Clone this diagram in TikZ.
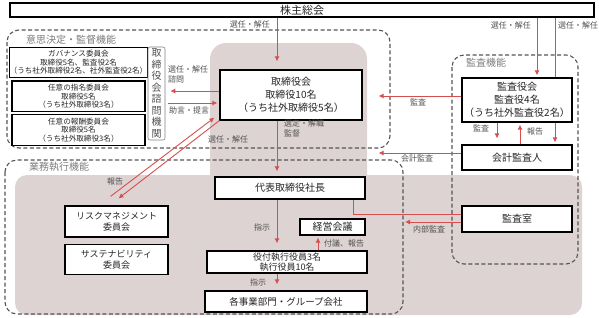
\documentclass[tikz,border=0pt]{standalone}
\usepackage{fontspec}
\setmainfont{Noto Sans CJK JP}
\usetikzlibrary{arrows.meta,positioning,backgrounds,calc}
\definecolor{arrowred}{RGB}{214,78,78}
\definecolor{towerfill}{RGB}{222,211,211}
\definecolor{zonegray}{RGB}{85,85,85}
\definecolor{labelgray}{RGB}{80,80,80}
\definecolor{zonetext}{RGB}{125,125,125}

\begin{document}
\begin{tikzpicture}[
    x=1pt, y=-1pt,
    unit/.style={
      rectangle, draw, line width=1.2pt, fill=white, align=center,
      inner sep=0pt, text=black!85, font=\fontsize{10}{13}\selectfont
    },
    committee/.style={unit, minimum width=133pt, minimum height=30.5pt,
      font=\fontsize{7.6}{8.6}\selectfont},
    zone/.style={draw=zonegray, line width=1.1pt, dash pattern=on 4pt off 2.5pt,
      rounded corners=12pt},
    zonelabel/.style={text=zonetext, font=\fontsize{10}{12}\selectfont},
    flow/.style={draw=arrowred, line width=0.9pt, -{Latex[length=5pt,width=5pt]},
      shorten >=2pt},
    note/.style={text=labelgray, font=\fontsize{8}{10}\selectfont, inner sep=1pt,
      align=left}
  ]
  \useasboundingbox (0,0) rectangle (599,317);
  \coordinate (execedge) at (403,160);

  \node[unit, minimum width=584pt, minimum height=14pt, font=\fontsize{11}{13}\selectfont] (agm) at (302,10) {株主総会};
  \node[unit, minimum width=142pt, minimum height=50pt] (board) at (291,95) {取締役会\\取締役10名\\（うち社外取締役5名）};
  \node[unit, minimum width=110pt, minimum height=44pt] (asb) at (517,100) {監査役会\\監査役4名\\（うち社外監査役2名）};
  \node[unit, minimum width=110pt, minimum height=25pt] (auditor) at (517,157.5) {会計監査人};
  \node[unit, minimum width=110pt, minimum height=26pt] (iad) at (517,219) {監査室};
  \node[unit, minimum width=150pt, minimum height=22pt] (ceo) at (290,188) {代表取締役社長};
  \node[unit, minimum width=65pt, minimum height=16pt] (mgmt) at (332.5,227) {経営会議};
  \node[unit, minimum width=160pt, minimum height=22pt, font=\fontsize{9}{10.5}\selectfont] (officers) at (287,262) {役付執行役員3名\\執行役員10名};
  \node[unit, minimum width=162pt, minimum height=21pt, font=\fontsize{9.5}{11}\selectfont] (units) at (286,301.5) {各事業部門・グループ会社};
  \node[unit, minimum width=103pt, minimum height=31pt, font=\fontsize{9}{11}\selectfont] (risk) at (116.5,221.5) {リスクマネジメント\\委員会};
  \node[unit, below=6pt of risk, minimum width=103pt, minimum height=30pt, font=\fontsize{9}{11}\selectfont] (sust) {サステナビリティ\\委員会};
  \node[committee] (gov) at (78.5,62.5) {ガバナンス委員会\\取締役5名、監査役2名\\（うち社外取締役2名、社外監査役2名）};
  \node[committee, below=2pt of gov] (nom) {任意の指名委員会\\取締役5名\\（うち社外取締役3名）};
  \node[committee, below=2pt of nom] (rem) {任意の報酬委員会\\取締役5名\\（うち社外取締役3名）};
  \node[draw=gray, rounded corners=2pt, line width=0.6pt, minimum width=17pt, minimum height=93pt,
    inner sep=0pt, align=center, text=labelgray, font=\fontsize{10}{11.5}\selectfont] (advisory) at (156.5,93.5) {取\\締\\役\\会\\諮\\問\\機\\関};

  \node[zonelabel] (decisionlbl) at (71,40) {意思決定・監督機能};
  \node[zonelabel] (execlbl) at (59,167) {業務執行機能};
  \node[zonelabel] (auditlbl) at (486,63) {監査機能};

  \begin{scope}[on background layer]
    \fill[towerfill, rounded corners=16pt] (210,43) rectangle (367,190);
    \fill[towerfill, rounded corners=12pt] (15,175) rectangle (582,315);
    \draw[zone] (7,30) rectangle (390,148);
    \draw[zone] (5,160) rectangle (403,314);
    \draw[zone] (452,55) rectangle (578,264);
    \draw[flow] ([xshift=38pt]auditor.north |- agm.south) -- ([xshift=38pt]auditor.north);
  \end{scope}

  \draw[flow, shorten >=8pt] ([xshift=-14pt]board.north |- agm.south) -- ([xshift=-14pt]board.north);
  \draw[flow] ([xshift=20pt]asb.north |- agm.south) -- ([xshift=20pt]asb.north);
  \draw[flow, shorten >=6pt] ([xshift=-20pt]asb.south) -- ([xshift=-20pt]auditor.north);
  \draw[flow] ([xshift=3pt]auditor.north) -- ([xshift=3pt]asb.south);
  \draw[flow, shorten >=16pt] ([yshift=4pt]asb.west) -- ([yshift=4pt]asb.west -| board.east);
  \draw[flow, shorten >=16pt] ([yshift=4.5pt]auditor.west) -- ([yshift=4.5pt]auditor.west -| board.east);
  \draw[flow, shorten >=5pt] ([yshift=4pt]board.west) -- ([yshift=4pt]board.west -| advisory.east);
  \draw[flow, shorten <=3pt] ([yshift=-8pt]advisory.east |- board.west) -- ([yshift=-8pt]board.west);
  \draw[flow, shorten >=0pt] ($(risk.north)+(-6,-9)$) -- ($(board.south west)+(-5,-3)$);
  \draw[flow, shorten >=0pt] (board.south west) -- ($(risk.north)+(2,-7)$);
  \draw[flow, shorten >=5pt] ([xshift=-14pt]board.south) -- ([xshift=-14pt]board.south |- ceo.north);
  \draw[flow, shorten >=7pt] ([xshift=-13pt]ceo.south) -- ([xshift=-13pt]ceo.south |- officers.north);
  \draw[flow, shorten >=6pt] ([xshift=-10pt]officers.south) -- ([xshift=-10pt]officers.south |- units.north);
  \draw[flow] ([xshift=31pt]officers.north) -- ([xshift=31pt]officers.north |- mgmt.south);
  \draw[draw=arrowred, line width=0.9pt] ([xshift=63pt]ceo.south) |- ([yshift=5pt]iad.west);
  \draw[flow] ([yshift=-3pt]iad.west) -- ([yshift=-3pt]iad.west -| execedge);

  \node[note, anchor=east] (l-agm-board) at (271,24) {選任・解任};
  \node[note, anchor=east] (l-agm-asb) at (532,25) {選任・解任};
  \node[note, anchor=west] (l-agm-aud) at (557,25) {選任・解任};
  \node[note] (l-asb-aud) at (481,128) {監査};
  \node[note] (l-aud-asb) at (535,131) {報告};
  \node[note] (l-audit) at (418,102) {監査};
  \node[note] (l-acct) at (417,158) {会計監査};
  \node[note] (l-internal) at (429,229) {内部監査};
  \node[note, anchor=north west] (l-consult) at (167,65) {選任・解任\\諮問};
  \node[note] (l-advice) at (189,110) {助言・提言};
  \node[note] (l-appoint) at (228,139) {選任・解任};
  \node[note] (l-report) at (115,181) {報告};
  \node[note, anchor=north west] (l-oversee) at (283,119) {選定・解職\\監督};
  \node[note] (l-order1) at (262,227) {指示};
  \node[note] (l-order2) at (258,282) {指示};
  \node[note] (l-propose) at (344,243) {付議、報告};
\end{tikzpicture}
\end{document}
